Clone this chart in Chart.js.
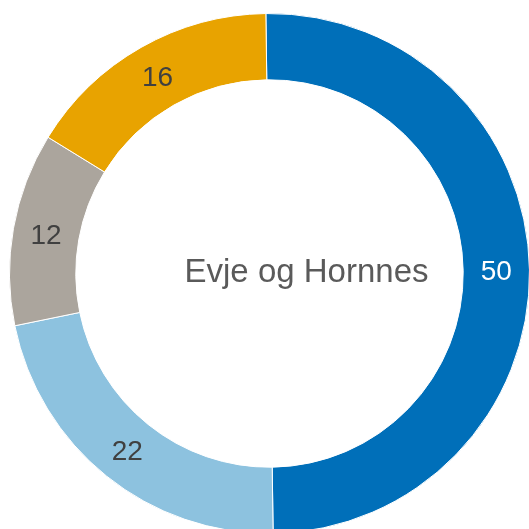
<!DOCTYPE html>
<html>
<head>
<meta charset="utf-8">
<script src="https://cdn.jsdelivr.net/npm/chart.js@4"></script>
<style>
  html, body { margin: 0; padding: 0; background: #fff; overflow: hidden; width: 529px; height: 529px; }
  #chart1 { position: absolute; left: 9px; top: 13px; }
</style>
</head>
<body>
<canvas id="chart1" width="521" height="521"></canvas>
<script>
var categories = ["A", "B", "C", "D"];
var values = [50, 22, 12, 16];
var colors = ["#006fb9", "#8dc2df", "#aba59d", "#e8a300"];
var labelColors = ["#ffffff", "#404040", "#404040", "#404040"];
var centerTitle = "Evje og Hornnes";

var labelPlugin = {
  id: "labels",
  afterDatasetsDraw: function (chart) {
    var ctx = chart.ctx;
    var meta = chart.getDatasetMeta(0);
    ctx.save();
    ctx.font = "28px 'Liberation Sans', Arial, sans-serif";
    ctx.textAlign = "center";
    ctx.textBaseline = "middle";
    meta.data.forEach(function (arc, i) {
      var p = arc.tooltipPosition();
      ctx.fillStyle = labelColors[i];
      ctx.fillText(values[i], p.x, p.y + 2);
    });
    var c = meta.data[0];
    ctx.font = "33px 'Liberation Sans', Arial, sans-serif";
    ctx.fillStyle = "#5a5a5a";
    ctx.textBaseline = "alphabetic";
    ctx.fillText(centerTitle, c.x + 37, c.y + 8);
    ctx.restore();
  }
};

new Chart(document.getElementById("chart1"), {
  type: "doughnut",
  data: {
    labels: categories,
    datasets: [{
      data: values,
      backgroundColor: colors,
      borderColor: "#ffffff",
      borderWidth: 1
    }]
  },
  options: {
    responsive: false,
    animation: false,
    cutout: "74.5%",
    rotation: -0.8,
    layout: { padding: 0 },
    plugins: { legend: { display: false }, tooltip: { enabled: false } }
  },
  plugins: [labelPlugin]
});
</script>
</body>
</html>
